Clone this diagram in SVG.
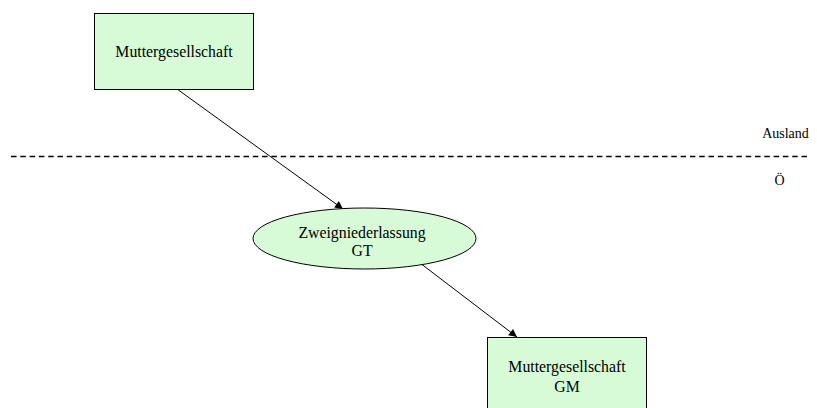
<svg xmlns="http://www.w3.org/2000/svg" width="817" height="408" viewBox="0 0 817 408">
  <style>
    .node { fill: #d6fbd6; stroke: #000; stroke-width: 1; }
    .lbl { font-family: "Liberation Serif", "Times New Roman", serif; font-size: 15.8px; fill: #000; text-anchor: middle; }
    .side { font-size: 14px; }
    .conn { stroke: #000; stroke-width: 1; fill: none; marker-end: url(#arrow); }
    .border { stroke: #000; stroke-width: 1.3; stroke-dasharray: 5.5 3.8; fill: none; }
  </style>
  <defs>
    <marker id="arrow" viewBox="0 0 10 10" refX="10" refY="5" markerWidth="9" markerHeight="8" markerUnits="userSpaceOnUse" orient="auto">
      <path d="M0,0 L10,5 L0,10 z" fill="#000"/>
    </marker>
  </defs>
  <rect width="817" height="408" fill="#fff"/>

  <!-- border line between Ausland and Österreich -->
  <g id="grenze">
    <line class="border" x1="11" y1="156.5" x2="808" y2="156.5"/>
    <text class="lbl side" x="785.5" y="138">Ausland</text>
    <text class="lbl side" x="779.5" y="185">Ö</text>
  </g>

  <g id="connectors">
    <line class="conn" x1="177" y1="89" x2="343" y2="209"/>
    <line class="conn" x1="420" y1="263" x2="517" y2="337"/>
  </g>

  <g id="mutter">
    <rect class="node" x="94.5" y="13.5" width="159" height="76"/>
    <text class="lbl" x="174" y="57">Muttergesellschaft</text>
  </g>

  <g id="zweigniederlassung">
    <ellipse class="node" cx="364.5" cy="238.5" rx="111.5" ry="30.5"/>
    <text class="lbl" x="362" y="238">Zweigniederlassung</text>
    <text class="lbl" x="362" y="256">GT</text>
  </g>

  <g id="mutter-gm">
    <rect class="node" x="487.5" y="337.5" width="159" height="76"/>
    <text class="lbl" x="567" y="372">Muttergesellschaft</text>
    <text class="lbl" x="567" y="392">GM</text>
  </g>
</svg>
